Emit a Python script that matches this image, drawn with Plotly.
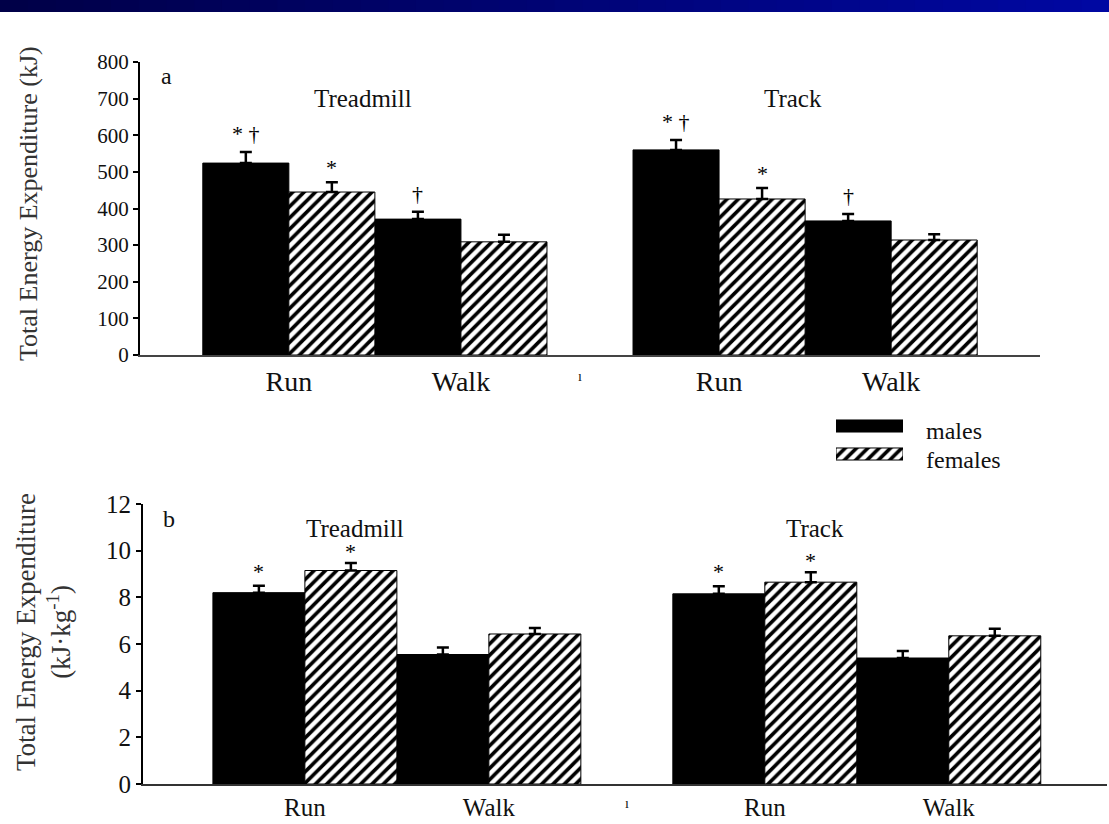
import plotly.graph_objects as go

# ---------------- data ----------------
categories = ["Run", "Walk", "Run", "Walk"]
groups = ["Treadmill", "Track"]
series_names = ["males", "females"]

a_males = [524, 371, 560, 366]
a_males_err = [30, 20, 27, 19]
a_females = [445, 309, 426, 314]
a_females_err = [27, 19, 30, 16]

b_males = [8.2, 5.55, 8.15, 5.4]
b_males_err = [0.3, 0.3, 0.33, 0.3]
b_females = [9.15, 6.43, 8.65, 6.35]
b_females_err = [0.32, 0.26, 0.42, 0.3]

a_males_sig = ["* †", "†", "* †", "†"]
a_females_sig = ["*", "", "*", ""]
b_males_sig = ["*", "", "*", ""]
b_females_sig = ["*", "", "*", ""]

a_ticks = [0, 100, 200, 300, 400, 500, 600, 700, 800]
b_ticks = [0, 2, 4, 6, 8, 10, 12]

# ---------------- layout helpers ----------------
W, H = 1109, 824
FONT = "Liberation Serif, Times New Roman, serif"
INK = "#111111"
cat_pos = [0, 2, 5, 7]           # category slots: two bars each, gap between groups
group_center = [1, 6]


def px_x(p):
    return p / W


def px_y(p):
    return 1 - p / H


male_marker = dict(color="black", line=dict(color="black", width=1))
female_marker = dict(color="white", line=dict(color="black", width=1),
                     pattern=dict(shape="/", fgcolor="black", bgcolor="white",
                                  size=8, solidity=0.45, fgopacity=1))


def err(arr):
    return dict(type="data", array=arr, arrayminus=[0] * len(arr), symmetric=False,
                color="black", thickness=2.5, width=6)


fig = go.Figure()

# panel a
fig.add_trace(go.Bar(x=[p - 0.5 for p in cat_pos], y=a_males, width=1, marker=male_marker,
                     error_y=err(a_males_err), xaxis="x", yaxis="y", showlegend=False,
                     name=series_names[0]))
fig.add_trace(go.Bar(x=[p + 0.5 for p in cat_pos], y=a_females, width=1, marker=female_marker,
                     error_y=err(a_females_err), xaxis="x", yaxis="y", showlegend=False,
                     name=series_names[1]))
# panel b
fig.add_trace(go.Bar(x=[p - 0.5 for p in cat_pos], y=b_males, width=1, marker=male_marker,
                     error_y=err(b_males_err), xaxis="x2", yaxis="y2", showlegend=False,
                     name=series_names[0]))
fig.add_trace(go.Bar(x=[p + 0.5 for p in cat_pos], y=b_females, width=1, marker=female_marker,
                     error_y=err(b_females_err), xaxis="x2", yaxis="y2", showlegend=False,
                     name=series_names[1]))
# legend swatches (own small axis)
fig.add_trace(go.Bar(y=[series_names[0]], x=[1], orientation="h", marker=male_marker,
                     xaxis="x3", yaxis="y3", showlegend=False))
fig.add_trace(go.Bar(y=[series_names[1]], x=[1], orientation="h", marker=female_marker,
                     xaxis="x3", yaxis="y3", showlegend=False))

annotations = []


def ann(**kw):
    kw.setdefault("showarrow", False)
    kw.setdefault("xanchor", "center")
    kw.setdefault("yanchor", "middle")
    annotations.append(kw)


# significance markers
def add_sig(vals, errs, sigs, offset, xref, yref, size, yshift):
    for p, v, e, s in zip(cat_pos, vals, errs, sigs):
        if s:
            ann(x=p + offset, y=v + e, xref=xref, yref=yref, text=s, yanchor="bottom",
                yshift=yshift, font=dict(family=FONT, size=size, color="black"))


add_sig(a_males, a_males_err, a_males_sig, -0.5, "x", "y", 22, 4)
add_sig(a_females, a_females_err, a_females_sig, 0.5, "x", "y", 22, 0)
add_sig(b_males, b_males_err, b_males_sig, -0.5, "x2", "y2", 22, 0)
add_sig(b_females, b_females_err, b_females_sig, 0.5, "x2", "y2", 22, -3)

# group titles
for gc, g in zip(group_center, groups):
    ann(x=gc, y=px_y(98), xref="x", yref="paper", text=g, xshift=-12,
        font=dict(family=FONT, size=25, color=INK))
    ann(x=gc, y=px_y(528), xref="x2", yref="paper", text=g, xshift=-42,
        font=dict(family=FONT, size=25, color=INK))

# panel letters
ann(x=px_x(166), y=px_y(76), xref="paper", yref="paper", text="a",
    font=dict(family=FONT, size=24, color=INK))
ann(x=px_x(169), y=px_y(519), xref="paper", yref="paper", text="b",
    font=dict(family=FONT, size=24, color=INK))

# y titles
ann(x=px_x(28), y=px_y(204), xref="paper", yref="paper",
    text="Total Energy Expenditure (kJ)", textangle=-90,
    font=dict(family=FONT, size=26, color="#333333"))
ann(x=px_x(43), y=px_y(632), xref="paper", yref="paper",
    text="Total Energy Expenditure<br>(kJ·kg<sup>-1</sup>)", textangle=-90,
    font=dict(family=FONT, size=27, color="#333333"))

# legend labels
ann(x=px_x(924), y=px_y(431), xref="paper", yref="paper", text=series_names[0],
    xanchor="left", font=dict(family=FONT, size=24, color=INK))
ann(x=px_x(924), y=px_y(460), xref="paper", yref="paper", text=series_names[1],
    xanchor="left", font=dict(family=FONT, size=24, color=INK))

# small mid tick marks
ann(x=3.5, y=0, xref="x", yref="y", text="ı", yanchor="top", yshift=-12, xshift=-10,
    font=dict(family=FONT, size=14, color=INK))
ann(x=3.5, y=0, xref="x2", yref="y2", text="ı", yanchor="top", yshift=-10,
    font=dict(family=FONT, size=14, color=INK))

# header band (gradient)
shapes = []
n = 40
for i in range(n):
    t = i / (n - 1)
    g = int(0 + 8 * t)
    b = int(72 + 90 * t)
    shapes.append(dict(type="rect", xref="paper", yref="paper", x0=i / n, x1=(i + 1) / n + 0.002,
                       y0=px_y(12), y1=1, fillcolor=f"rgb(0,{g},{b})", line=dict(width=0),
                       layer="above"))

tickfont_a = dict(family=FONT, size=21, color="#111111")
tickfont_b = dict(family=FONT, size=25, color="#111111")
catfont_a = dict(family=FONT, size=28, color=INK)
catfont_b = dict(family=FONT, size=25, color=INK)

fig.update_layout(
    template="none",
    width=W, height=H,
    margin=dict(l=0, r=0, t=0, b=0, autoexpand=False),
    paper_bgcolor="white", plot_bgcolor="white",
    barmode="overlay",
    showlegend=False,
    annotations=annotations,
    shapes=shapes,
    xaxis=dict(domain=[px_x(140), px_x(1040)], range=[-1.73, 8.73], tickmode="array",
               tickvals=cat_pos, ticktext=categories, tickfont=catfont_a, ticks="",
               showline=True, linecolor="#444444", linewidth=2, showgrid=False, zeroline=False,
               anchor="y", automargin=False),
    yaxis=dict(domain=[px_y(355), px_y(62)], range=[0, 800], tickmode="array", tickvals=a_ticks,
               tickfont=tickfont_a, ticks="outside", ticklen=5, tickwidth=2, tickcolor="black",
               showline=True, linecolor="black", linewidth=2, showgrid=False, zeroline=False,
               anchor="x", automargin=False),
    xaxis2=dict(domain=[px_x(143), px_x(1107)], range=[-1.76, 8.72], tickmode="array",
                tickvals=cat_pos, ticktext=categories, tickfont=catfont_b, ticks="",
                showline=True, linecolor="#333333", linewidth=2, showgrid=False, zeroline=False,
                anchor="y2", automargin=False),
    yaxis2=dict(domain=[px_y(784), px_y(504)], range=[0, 12], tickmode="array", tickvals=b_ticks,
                tickfont=tickfont_b, ticks="outside", ticklen=5, tickwidth=2, tickcolor="black",
                showline=True, linecolor="black", linewidth=2, showgrid=False, zeroline=False,
                anchor="x2", automargin=False),
    xaxis3=dict(domain=[px_x(836), px_x(903)], range=[0, 1], visible=False, anchor="y3",
                automargin=False),
    yaxis3=dict(domain=[px_y(468), px_y(412)], visible=False, anchor="x3", automargin=False,
                categoryorder="array", categoryarray=[series_names[1], series_names[0]]),
    bargap=0.57,
)

fig.write_html("out.html")
